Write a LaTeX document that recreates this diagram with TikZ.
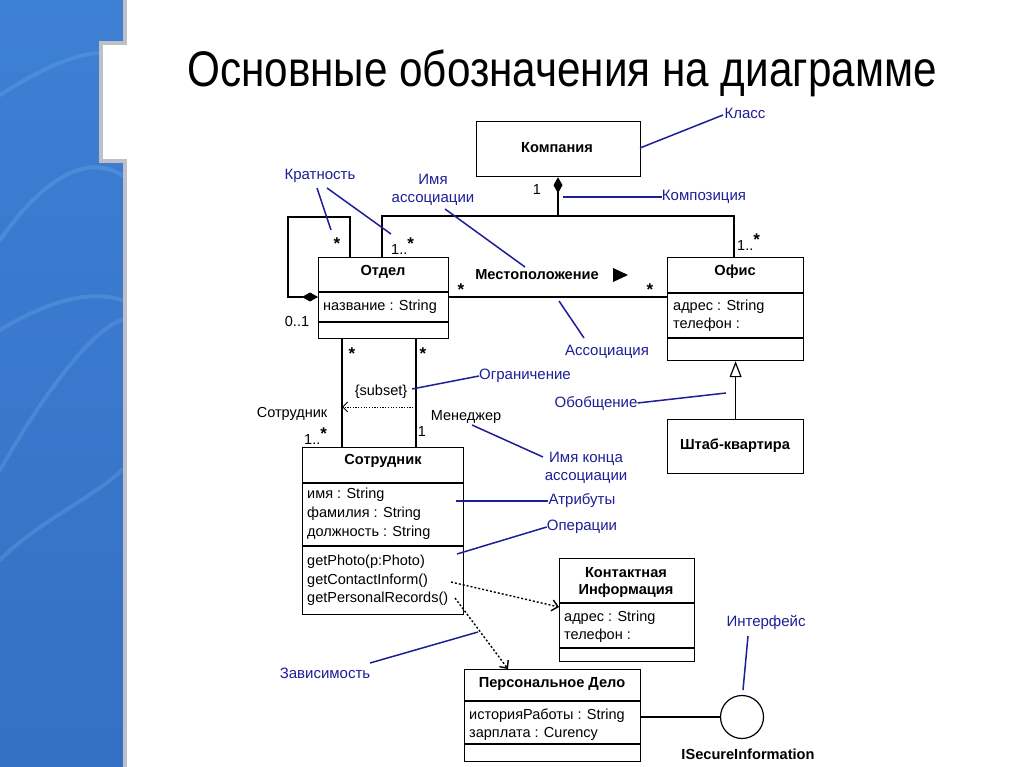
\documentclass[tikz,border=0pt]{standalone}
\usepackage{fontspec}
\setmainfont{Liberation Sans}
\usetikzlibrary{arrows.meta}
\definecolor{nb}{RGB}{30,30,150}
\definecolor{stripA}{RGB}{62,128,212}
\definecolor{stripB}{RGB}{52,112,196}
\definecolor{streak}{RGB}{140,200,250}
\definecolor{edge}{RGB}{190,192,198}
\newcommand{\bigstar}{{\fontsize{17}{17}\selectfont\bfseries *}}
\begin{document}
\begin{tikzpicture}[x=1pt,y=-1pt,
  cls/.style={draw,line width=1.2pt,inner sep=0,anchor=north west},
  t/.style={inner sep=0,font=\fontsize{14.5}{17}\selectfont},
  tb/.style={inner sep=0,font=\fontsize{14.6}{17.5}\selectfont\bfseries},
  nt/.style={inner sep=0,text=nb,font=\fontsize{15}{18}\selectfont},
  nl/.style={draw=nb,line width=1.5pt},
  ln/.style={line width=1.2pt},
  dep/.style={line width=1.4pt,dash pattern=on 2pt off 2pt,-{Straight Barb[length=6pt,width=11pt]}},
]
\useasboundingbox (0,0) rectangle (1024,767);
\fill[white] (0,0) rectangle (1024,767);
% left strip
\shade[top color=stripA,bottom color=stripB] (0,0) rectangle (123,767);
\begin{scope}[streak,opacity=0.2,line width=4pt,line cap=round]
\draw (0,95) .. controls (40,70) and (85,45) .. (122,55);
\draw (0,240) .. controls (35,190) and (80,150) .. (122,175);
\draw (0,330) .. controls (50,300) and (90,290) .. (122,300);
\draw (0,470) .. controls (40,400) and (90,330) .. (122,320);
\draw (0,560) .. controls (40,520) and (90,500) .. (122,470);
\end{scope}
\fill[white] (99,41) rectangle (127,163);
\draw[edge,line width=4pt] (124.5,0) -- (124.5,43) -- (101,43) -- (101,161) -- (124.5,161) -- (124.5,767);
% title
\node[inner sep=0,anchor=base west,font=\fontsize{50}{56}\selectfont] (title) at (187,87) {\scalebox{0.845}[1]{Основные обозначения на диаграмме}};

% classes
\node[cls,minimum width=164pt,minimum height=55pt] (komp) at (476,121) {};
\node[tb] (kompn) at (557,148) {Компания};

\node[cls,minimum width=130pt,minimum height=81pt] (otdel) at (318,257) {};
\draw[ln] (318,292) -- (448,292) (318,322) -- (448,322);
\node[tb] (otdeln) at (383,272) {Отдел};
\node[t,anchor=west] (otdela) at (323,307) {название : String};

\node[cls,minimum width=136pt,minimum height=103pt] (ofis) at (667,257) {};
\draw[ln] (667,293) -- (803,293) (667,338) -- (803,338);
\node[tb] (ofisn) at (735,272) {Офис};
\node[t,anchor=west] (ofisa1) at (673,307) {адрес : String};
\node[t,anchor=west] (ofisa2) at (673,325) {телефон :};

\node[cls,minimum width=136pt,minimum height=54pt] (shtab) at (667,419) {};
\node[tb] (shtabn) at (735,446) {Штаб-квартира};

\node[cls,minimum width=161pt,minimum height=167pt] (sotr) at (302,447) {};
\draw[ln] (302,483) -- (463,483) (302,546) -- (463,546);
\node[tb] (sotrn) at (383,461) {Сотрудник};
\node[t,anchor=west] (sa1) at (307,495) {имя : String};
\node[t,anchor=west] (sa2) at (307,514) {фамилия : String};
\node[t,anchor=west] (sa3) at (307,533) {должность : String};
\node[t,anchor=west] (so1) at (307,562) {getPhoto(p:Photo)};
\node[t,anchor=west] (so2) at (307,581) {getContactInform()};
\node[t,anchor=west] (so3) at (307,599) {getPersonalRecords()};

\node[cls,minimum width=135pt,minimum height=103pt] (kont) at (559,558) {};
\draw[ln] (559,603) -- (694,603) (559,648) -- (694,648);
\node[tb] (kontn1) at (626,573) {Контактная};
\node[tb] (kontn2) at (626,591) {Информация};
\node[t,anchor=west] (ka1) at (564,618) {адрес : String};
\node[t,anchor=west] (ka2) at (564,636) {телефон :};

\node[cls,minimum width=176pt,minimum height=92pt] (pd) at (464,669) {};
\draw[ln] (464,701) -- (640,701) (464,744) -- (640,744);
\node[tb] (pdn) at (552,684) {Персональное Дело};
\node[t,anchor=west] (pa1) at (469,716) {историяРаботы : String};
\node[t,anchor=west] (pa2) at (469,734) {зарплата : Curency};

\node[draw,circle,line width=1.2pt,minimum size=43pt,inner sep=0] (iface) at (742,717) {};
\node[tb] (ifacen) at (748,754) {ISecureInformation};

% connectors
\coordinate (jc) at (558,216);
\coordinate (jl) at (382,216);
\coordinate (jr) at (734,216);
\draw[ln,-{Diamond[length=16pt,width=9pt]}] (jc) -- (komp.south -| jc);
\draw[ln] (jl |- otdel.north) -- (jl) -- (jr) -- (jr |- ofis.north);
\coordinate (lpr) at (350,217);
\coordinate (lpl) at (288,217);
\coordinate (lpb) at (288,297);
\draw[ln,-{Diamond[length=16pt,width=9pt]}] (lpr |- otdel.north) -- (lpr) -- (lpl) -- (lpb) -- (lpb -| otdel.west);
\coordinate (ay) at (0,297);
\draw[ln] (otdel.east |- ay) -- (ofis.west |- ay);
\coordinate (v1) at (342,0);
\coordinate (v2) at (416,0);
\draw[ln] (v1 |- otdel.south) -- (v1 |- sotr.north);
\draw[ln] (v2 |- otdel.south) -- (v2 |- sotr.north);
\coordinate (sy) at (0,407);
\draw[line width=0.9pt,dash pattern=on 1.2pt off 1.5pt,-{Straight Barb[length=5pt,width=10pt]}] (v2 |- sy) -- (v1 |- sy);
\draw[ln,-{Triangle[open,length=16pt,width=12pt]}] (shtab.north) -- (ofis.south);
\draw[ln] (pd.east |- iface) -- (iface.west);
\coordinate (d1) at (451,582);
\coordinate (d1e) at (0,607);
\draw[dep] (d1) -- (kont.west |- d1e);
\coordinate (d2) at (455,598);
\coordinate (d2e) at (508,0);
\draw[dep] (d2) -- (pd.north -| d2e);
% association name + arrow
\node[tb] (mestn) at (537,275) {Местоположение};
\fill (613,268) -- (628,275) -- (613,282) -- cycle;

% multiplicities and role names
\node[t] (m1) at (537,190) {1};
\node[t,anchor=west] (m2) at (391,246) {1..\raisebox{5pt}{\bigstar}};
\node[t] (m3) at (337,244) {\bigstar};
\node[t] (m4) at (297,322) {0..1};
\node[t] (m5) at (461,290) {\bigstar};
\node[t] (m6) at (650,290) {\bigstar};
\node[t,anchor=west] (m7) at (737,242) {1..\raisebox{5pt}{\bigstar}};
\node[t] (m8) at (352,354) {\bigstar};
\node[t] (m9) at (423,354) {\bigstar};
\node[t] (subs) at (381,392) {\{subset\}};
\node[t] (rsotr) at (292,414) {Сотрудник};
\node[t,anchor=west] (m10) at (304,436) {1..\raisebox{5pt}{\bigstar}};
\node[t] (m11) at (422,432) {1};
\node[t] (rmen) at (466,417) {Менеджер};

% blue notes
\node[nt] (nklass) at (745,113) {Класс};
\draw[nl] (640,148) -- (723,115);
\node[nt] (nkomp) at (704,197) {Композиция};
\draw[nl] (563,197) -- (nkomp.west);
\node[nt] (nkrat) at (320,176) {Кратность};
\draw[nl] (317,188) -- (331,230);
\draw[nl] (327,188) -- (391,234);
\node[nt,align=center] (nimya) at (433,190) {Имя\\ассоциации};
\draw[nl] (445,209) -- (525,267);
\node[nt] (nassoc) at (607,352) {Ассоциация};
\draw[nl] (584,338) -- (559,301);
\node[nt] (nogr) at (525,376) {Ограничение};
\draw[nl] (412,389) -- (nogr.west);
\node[nt] (nobob) at (596,403) {Обобщение};
\draw[nl] (nobob.east) -- (726,393);
\node[nt,align=center] (nkonec) at (586,468) {Имя конца\\ассоциации};
\draw[nl] (472,425) -- (543,457);
\node[nt] (nattr) at (582,501) {Атрибуты};
\draw[nl] (456,501) -- (nattr.west);
\node[nt] (noper) at (582,527) {Операции};
\draw[nl] (457,554) -- (noper.west);
\node[nt] (nzav) at (325,673) {Зависимость};
\draw[nl] (370,663) -- (478,632);
\node[nt] (nintf) at (766,622) {Интерфейс};
\draw[nl] (748,636) -- (743,690);
\end{tikzpicture}
\end{document}
